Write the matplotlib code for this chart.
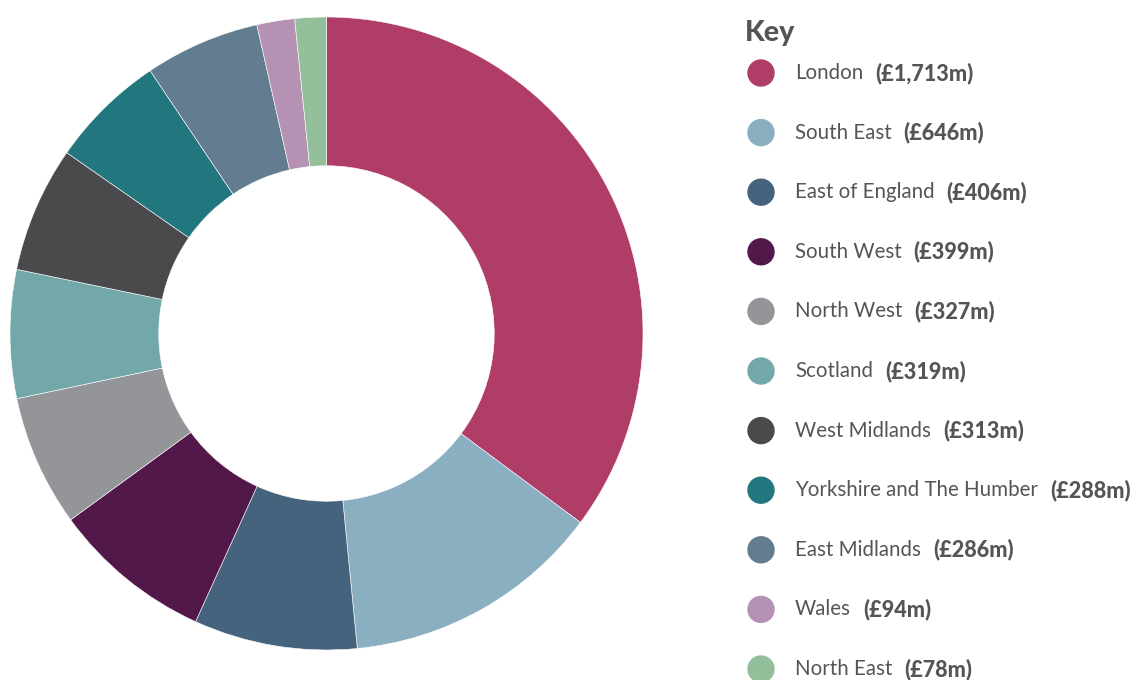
import matplotlib
matplotlib.use('Agg')
import matplotlib.pyplot as plt

regions = ['London', 'South East', 'East of England', 'South West', 'North West',
           'Scotland', 'West Midlands', 'Yorkshire and The Humber', 'East Midlands',
           'Wales', 'North East']
spend = [1713, 646, 406, 399, 327, 319, 313, 288, 286, 94, 78]
spend_labels = ['(£1,713m)', '(£646m)', '(£406m)', '(£399m)', '(£327m)', '(£319m)',
                '(£313m)', '(£288m)', '(£286m)', '(£94m)', '(£78m)']
colours = ['#B03C68', '#8AAFC0', '#46637D', '#53184A', '#939598', '#73A8AB',
           '#4A4A4C', '#22777E', '#627D8F', '#B592B3', '#93BF9A']

text_col = '#555555'
W, H = 1139, 680

fig = plt.figure(figsize=(W / 100, H / 100), dpi=100)

# donut: centre ~(326.5, 333.5) px, outer radius ~316.5 px
cx, cy, r = 326.5, 333.5, 316.5
ax = fig.add_axes([(cx - r) / W, (H - cy - r) / H, 2 * r / W, 2 * r / H])
ax.pie(spend, colors=colours, startangle=90, counterclock=False, radius=1,
       wedgeprops=dict(width=0.47, edgecolor='white', linewidth=0.4))
ax.set_xlim(-1, 1)
ax.set_ylim(-1, 1)
ax.set_aspect('equal')
ax.axis('off')

# key on the right
fig.text(745 / W, 1 - 33 / H, 'Key', fontsize=20.5, fontweight=900,
         family='Lato', color=text_col, va='center', ha='left')

renderer = fig.canvas.get_renderer()
y0, step = 73, 59.6
for i, (name, lab, col) in enumerate(zip(regions, spend_labels, colours)):
    y = 1 - (y0 + i * step) / H
    fig.patches.append(matplotlib.patches.Ellipse((761 / W, y), 26 / W, 26 / H,
                                                  transform=fig.transFigure,
                                                  color=col, figure=fig))
    t = fig.text(795 / W, y, name, fontsize=14.8, family='Lato', color=text_col,
                 va='center', ha='left')
    bb = t.get_window_extent(renderer=renderer)
    fig.text((bb.x1 + 12) / W, y, lab, fontsize=15.6, family='Lato',
             fontweight=900, color=text_col, va='center', ha='left')

fig.savefig('out.png', dpi=100)
